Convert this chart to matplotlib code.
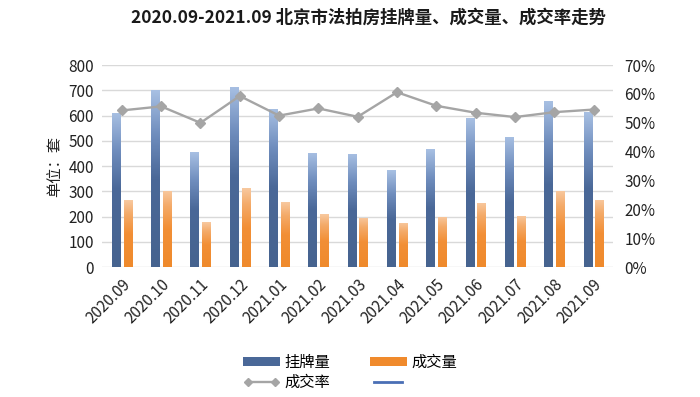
import numpy as np
import matplotlib
matplotlib.use("Agg")
import matplotlib.pyplot as plt
from matplotlib.colors import LinearSegmentedColormap
from matplotlib.patches import Patch
from matplotlib.lines import Line2D
from matplotlib.ticker import PercentFormatter

plt.rcParams['font.family'] = ['Noto Sans CJK SC', 'DejaVu Sans']

months = ["2020.09", "2020.10", "2020.11", "2020.12", "2021.01", "2021.02", "2021.03",
          "2021.04", "2021.05", "2021.06", "2021.07", "2021.08", "2021.09"]
listed = [610, 700, 455, 713, 627, 453, 448, 383, 466, 589, 515, 657, 613]
sold = [264, 301, 177, 312, 257, 209, 196, 176, 198, 255, 202, 301, 267]
rate = [54.3, 55.7, 50.0, 59.3, 52.5, 55.0, 52.1, 60.6, 55.9, 53.5, 52.0, 53.7, 54.6]

title = "2020.09-2021.09 北京市法拍房挂牌量、成交量、成交率走势"

fig = plt.figure(figsize=(7.0, 3.97), dpi=100)
ax = fig.add_axes([0.146, 0.327, 0.73, 0.509])
ax2 = ax.twinx()

x = np.arange(len(months))
w = 0.21
off = 0.15

blue_cmap = LinearSegmentedColormap.from_list(
    "b", [(0, "#46638f"), (0.5, "#4a6898"), (0.75, "#6f8dbd"), (1.0, "#a8c0e3")])
orange_cmap = LinearSegmentedColormap.from_list(
    "o", [(0, "#ef8a2c"), (0.5, "#f28f36"), (0.8, "#f4ab6a"), (1.0, "#f8c9a0")])

b1 = ax.bar(x - off, listed, w, color="#4a6898", zorder=2)
b2 = ax.bar(x + off, sold, w, color="#f0903a", zorder=2)

grad = np.linspace(0, 1, 256).reshape(-1, 1)
for bars, cmap in ((b1, blue_cmap), (b2, orange_cmap)):
    for r in bars:
        x0, y0 = r.get_x(), r.get_y()
        im = ax.imshow(grad, extent=[x0, x0 + r.get_width(), y0, y0 + r.get_height()],
                       origin="lower", aspect="auto", cmap=cmap, zorder=2.1)
        im.set_clip_path(r)

ax.set_xlim(-0.5, len(months) - 0.5)
ax.set_ylim(0, 800)
ax.set_yticks(range(0, 801, 100))
ax.yaxis.grid(True, color="#d9d9d9", linewidth=1.0, zorder=0)
ax.set_axisbelow(True)

ax2.plot(x, rate, color="#a5a5a5", linewidth=1.7, marker="D", markersize=5,
         markerfacecolor="#a5a5a5", markeredgecolor="#a5a5a5", zorder=3)
ax2.set_ylim(0, 70)
ax2.set_yticks(range(0, 71, 10))
ax2.yaxis.set_major_formatter(PercentFormatter(decimals=0))

for a in (ax, ax2):
    for s in a.spines.values():
        s.set_visible(False)
    a.tick_params(length=0, labelsize=11, colors="#222222")

ax.tick_params(axis="y", pad=6)
ax2.tick_params(axis="y", pad=8)
ax.set_xticks(x)
ax.set_xticklabels(months, rotation=45, ha="right", va="top", rotation_mode="anchor")
ax.tick_params(axis="x", pad=6)

ax.set_ylabel("单位：套", fontsize=11, color="#222222", labelpad=4)

fig.text(0.527, 0.955, title, ha="center", va="center", fontsize=12.5,
         fontweight="bold", color="#1a1a1a")

handles = [Patch(facecolor="#4a6898"),
           Line2D([0], [0], color="#a5a5a5", linewidth=1.7, marker="D", markersize=4),
           Patch(facecolor="#f08a2c"),
           Line2D([0], [0], color="#4a6fb5", linewidth=2)]
labels = ["挂牌量", "成交率", "成交量", ""]
fig.legend(handles, labels, ncol=2, loc="center", bbox_to_anchor=(0.5, 0.062),
           frameon=False, fontsize=11, handlelength=2.4, handleheight=0.5,
           columnspacing=2.6, labelspacing=0.15, handletextpad=0.3, numpoints=2)

fig.savefig("out.png", dpi=100, facecolor="white")
